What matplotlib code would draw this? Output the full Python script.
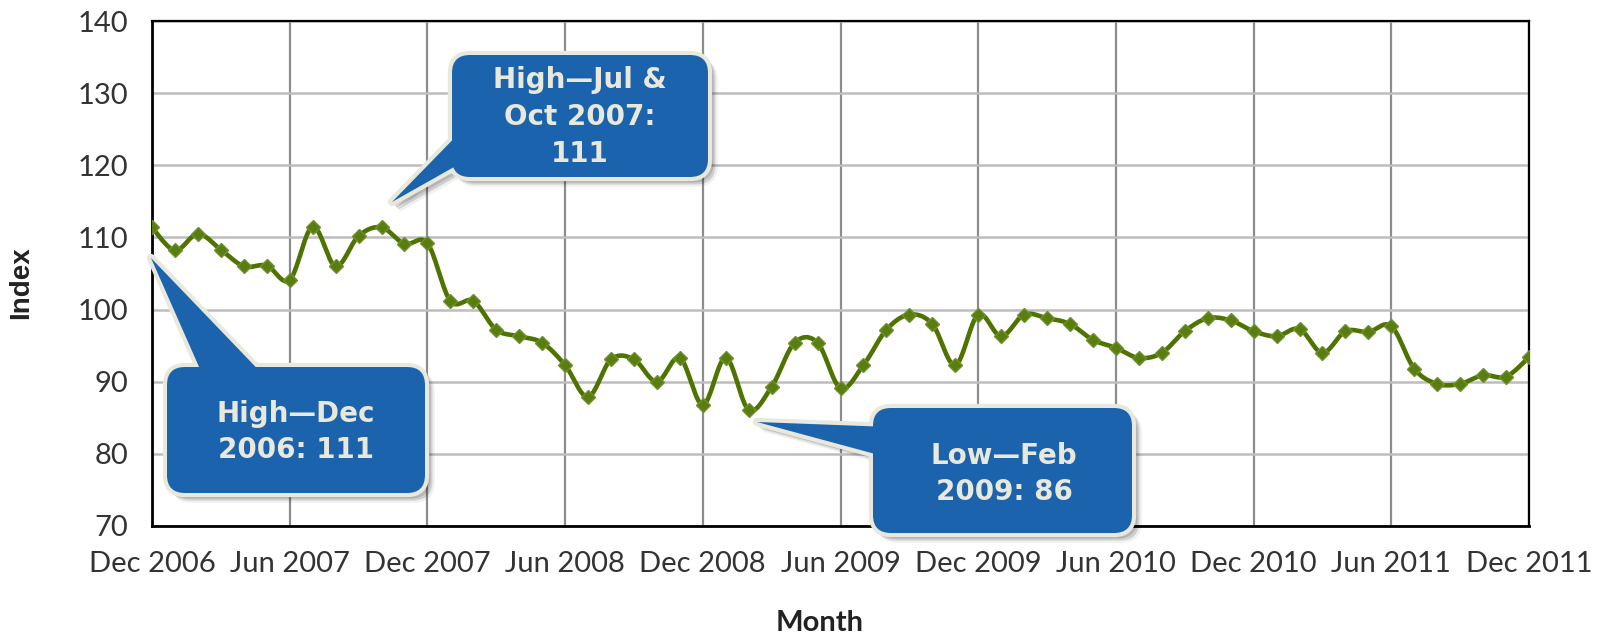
import numpy as np
import matplotlib
matplotlib.use("Agg")
import matplotlib.pyplot as plt
from matplotlib.patches import FancyBboxPatch, Polygon
from matplotlib.transforms import IdentityTransform, offset_copy

# monthly index, Dec 2006 .. Dec 2011
values = [111.4,
          108.2, 110.5, 108.3, 106.0, 106.1, 104.1, 111.5, 106.0, 110.2, 111.4, 109.1, 109.2,
          101.2, 101.2, 97.2, 96.3, 95.4, 92.3, 87.9, 93.1, 93.1, 90.0, 93.3, 86.8,
          93.3, 86.1, 89.3, 95.4, 95.4, 89.1, 92.3, 97.2, 99.3, 98.0, 92.3, 99.3,
          96.3, 99.3, 98.8, 98.0, 95.8, 94.7, 93.3, 94.0, 97.0, 98.8, 98.5, 97.0,
          96.3, 97.3, 94.0, 97.0, 96.9, 97.7, 91.8, 89.7, 89.7, 90.9, 90.7, 93.4]
tick_labels = ["Dec 2006", "Jun 2007", "Dec 2007", "Jun 2008", "Dec 2008", "Jun 2009",
               "Dec 2009", "Jun 2010", "Dec 2010", "Jun 2011", "Dec 2011"]
callout_texts = ["High\u2014Jul &\nOct 2007:\n111", "High\u2014Dec\n2006: 111", "Low\u2014Feb\n2009: 86"]

W, H = 1598, 636
fig = plt.figure(figsize=(W / 100, H / 100), dpi=100)
ax = fig.add_axes([152 / W, 1 - 526 / H, 1377 / W, 505 / H])

x = np.arange(len(values))
y = np.array(values)


def catmull_rom(px, py, n=20):
    # smooth line through the points, like a spreadsheet "smoothed line"
    P = np.column_stack([px, py]).astype(float)
    P = np.vstack([P[0], P, P[-1]])
    out = []
    t = np.linspace(0, 1, n, endpoint=False)[:, None]
    for i in range(1, len(P) - 2):
        p0, p1, p2, p3 = P[i - 1], P[i], P[i + 1], P[i + 2]
        seg = 0.5 * ((2 * p1) + (-p0 + p2) * t + (2 * p0 - 5 * p1 + 4 * p2 - p3) * t ** 2
                     + (-p0 + 3 * p1 - 3 * p2 + p3) * t ** 3)
        out.append(seg)
    out.append(P[-2][None, :])
    out = np.vstack(out)
    return out[:, 0], out[:, 1]


sx, sy = catmull_rom(x, y)
green = "#4f7300"
ax.plot(sx, sy, color=green, lw=3.3, zorder=3, solid_capstyle="round")
ax.plot(x, y, ls="none", marker="D", ms=7, color="#5a7d10", mec="#6f9030", mew=1, zorder=4)

ax.set_xlim(0, 60)
ax.set_ylim(70, 140)
ax.set_yticks(range(70, 141, 10))
ax.set_xticks(range(0, 61, 6))
ax.set_xticklabels(tick_labels)
ax.tick_params(length=0, labelsize=21, colors="#333333")
ax.tick_params(axis="y", pad=17)
ax.tick_params(axis="x", pad=18)
for lab in ax.get_xticklabels() + ax.get_yticklabels():
    lab.set_family("Lato")
ax.grid(axis="x", color="#8c8c8c", lw=1.6)
ax.grid(axis="y", color="#bdbdbd", lw=1.8)
ax.set_axisbelow(True)
for s in ax.spines.values():
    s.set_color("black")
    s.set_linewidth(1.6)
ax.spines["left"].set_linewidth(2)
ax.spines["bottom"].set_linewidth(2)

fig.text(21 / W, 1 - 283 / H, "Index", rotation=90, ha="center", va="center",
         fontsize=20, fontweight="bold", color="#222222", family="Liberation Sans")
fig.text(820 / W, 1 - 623 / H, "Month", ha="center", va="center",
         fontsize=21, fontweight="bold", color="#222222", family="Lato")

# callouts in figure pixels (top-left origin): box x0, y0, x1, y1, tail points, text centre
callouts = [
    ((452, 55, 708, 177), [(470, 122), (470, 158), (392, 202)], (580, 117)),
    ((167, 367, 425, 493), [(207, 385), (273, 385), (151, 258)], (296, 432)),
    ((873, 408, 1132, 533), [(890, 427), (890, 458), (757, 422)], (1004, 474)),
]
blue = "#1c63ad"
beige = "#e8e8dc"
ident = IdentityTransform()


def flip(p):
    return (p[0], H - p[1])


for (x0, y0, x1, y1), tail, tpos in callouts:
    tail_pts = [flip(p) for p in tail]
    for off, a in [(7, 0.06), (5, 0.08), (3, 0.10)]:
        tr = offset_copy(ident, fig=fig, x=off * 0.72, y=-off * 0.72, units="points")
        fig.patches.append(FancyBboxPatch((x0, H - y1), x1 - x0, y1 - y0,
                                          boxstyle="round,pad=0,rounding_size=18",
                                          transform=tr, fc="black", ec="black", lw=4, alpha=a, zorder=5))
        fig.patches.append(Polygon(tail_pts, closed=True, transform=tr, fc="black", ec="black",
                                   lw=4, alpha=a, zorder=5))
    for fc, ec, lw, z in [(beige, beige, 6, 6), (blue, "none", 0, 7)]:
        fig.patches.append(FancyBboxPatch((x0, H - y1), x1 - x0, y1 - y0,
                                          boxstyle="round,pad=0,rounding_size=18",
                                          transform=ident, fc=fc, ec=ec, lw=lw, zorder=z,
                                          joinstyle="round"))
        fig.patches.append(Polygon(tail_pts, closed=True, transform=ident, fc=fc, ec=ec, lw=lw,
                                   zorder=z, joinstyle="round"))

for (box, tail, tpos), txt in zip(callouts, callout_texts):
    fig.text(tpos[0] / W, 1 - tpos[1] / H, txt, ha="center", va="center", fontsize=20,
             fontweight="bold", color=beige, family="DejaVu Sans", linespacing=1.4, zorder=8)

fig.savefig("out.png", dpi=100)
